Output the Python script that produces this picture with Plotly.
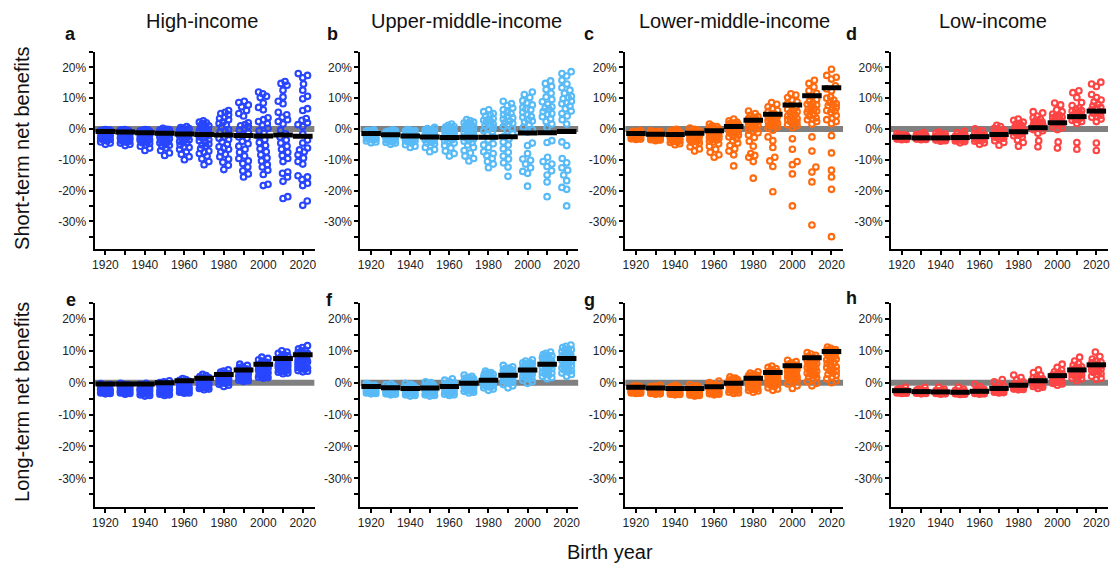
import math
import plotly.graph_objects as go

# ---------------- data ----------------
years = [1920, 1930, 1940, 1950, 1960, 1970, 1980, 1990, 2000, 2010, 2020]
x_tick_years = [1920, 1940, 1960, 1980, 2000, 2020]
y_tick_vals = [-30, -20, -10, 0, 10, 20]
y_tick_text = ["-30%", "-20%", "-10%", "0%", "10%", "20%"]

panel_titles = ["High-income", "Upper-middle-income", "Lower-middle-income", "Low-income"]
panel_letters = ["a", "b", "c", "d", "e", "f", "g", "h"]
row_titles = ["Short-term net benefits", "Long-term net benefits"]
x_title = "Birth year"

group_colors = ["#2845ff", "#58baf6", "#ff6a0e", "#ff4444"]

# Short-term net benefits (%), one list per birth-year group
high_short = [
    [-0.2,-0.3,-0.4,-0.5,-0.6,-0.7,-0.8,-0.9,-1.0,-1.1,-1.2,-1.4,-1.6,-1.8,-2.0,-2.2,-2.5,-2.7,-3.0,-3.2,-3.4,-3.6,-3.9,-4.2,-4.6,-5.0,-0.3,-0.6,-1.3,-2.9],
    [-0.2,-0.4,-0.5,-0.7,-0.9,-1.0,-1.2,-1.4,-1.6,-1.9,-2.1,-2.4,-2.6,-2.9,-3.1,-3.4,-3.7,-4.0,-4.3,-4.6,-5.0,-5.4,-0.3,-0.8,-1.5,-2.2,-3.0,-3.6,-4.1,-1.1],
    [-0.2,-0.4,-0.6,-0.8,-1.0,-1.3,-1.5,-1.8,-2.0,-2.3,-2.6,-2.9,-3.2,-3.5,-3.9,-4.3,-4.7,-5.1,-5.6,-6.2,-7.0,-0.3,-0.7,-1.1,-1.6,-2.4,-3.0,-3.7,-4.5,-1.9],
    [0.2,-0.1,-0.3,-0.5,-0.8,-1.0,-1.3,-1.6,-1.9,-2.2,-2.5,-2.8,-3.2,-3.6,-4.0,-4.5,-5.0,-5.6,-6.2,-7.0,-7.8,-8.6,-0.2,-0.6,-1.1,-1.8,-2.6,-3.4,-4.2,-5.3],
    [0.8,0.4,0.1,-0.2,-0.5,-0.8,-1.1,-1.4,-1.8,-2.2,-2.6,-3.0,-3.5,-4.0,-4.6,-5.2,-5.9,-6.6,-7.4,-8.2,-9.0,-10.0,0.2,-0.4,-1.0,-1.6,-2.4,-3.2,-4.4,-6.0],
    [2.6,2.2,1.6,1.0,0.4,-0.1,-0.6,-1.1,-1.7,-2.3,-2.9,-3.5,-4.2,-4.9,-5.6,-6.4,-7.2,-8.0,-8.8,-9.7,-10.6,-11.6,2.0,0.8,-0.3,-1.4,-2.6,-3.8,-5.2,-7.6],
    [6.0,5.4,4.6,3.8,3.0,2.2,1.4,0.6,-0.2,-1.0,-1.8,-2.6,-3.4,-4.2,-5.0,-5.8,-6.6,-7.4,-8.2,-9.0,-9.8,-10.8,-11.8,-13.2,5.0,3.4,1.8,-0.6,-3.0,-6.2],
    [9.0,8.6,7.8,7.2,6.0,5.0,4.2,2.0,1.4,0.8,0.2,-0.4,-1.2,-2.0,-3.0,-4.0,-4.8,-5.6,-6.6,-7.6,-8.8,-9.6,-10.4,-11.2,-12.4,-13.6,-14.6,-15.6,1.0,-2.6],
    [12.0,11.4,10.6,10.2,8.4,7.0,6.2,3.6,3.0,2.4,1.8,1.2,0.2,-0.6,-1.4,-2.4,-3.4,-4.4,-5.4,-6.4,-7.4,-8.4,-9.4,-10.4,-11.6,-12.4,-13.4,-14.8,-18.0,-18.4],
    [15.4,14.8,14.2,12.6,10.4,9.0,8.2,5.4,4.6,3.8,3.0,2.4,1.6,-0.4,-1.6,-2.6,-3.6,-4.6,-5.6,-6.6,-7.6,-8.6,-9.6,-10.6,-14.0,-14.4,-15.6,-17.0,-22.0,-22.6],
    [18.0,17.4,16.6,14.6,12.6,10.6,9.8,6.6,6.0,3.4,2.8,2.0,1.4,0.8,-1.6,-3.6,-4.6,-6.2,-6.8,-7.4,-8.4,-9.4,-10.6,-11.4,-15.2,-15.6,-16.4,-17.6,-18.4,-23.4,-24.8],
]
upper_short = [
    [-0.3,-0.5,-0.7,-0.9,-1.1,-1.3,-1.5,-1.7,-1.9,-2.1,-2.3,-2.5,-2.7,-2.9,-3.1,-3.3,-3.6,-3.9,-4.2,-4.5,-0.6,-1.0,-1.4,-1.8,-2.2,-2.6,-3.0,-3.4,-1.2,-2.0],
    [-0.3,-0.5,-0.8,-1.0,-1.3,-1.5,-1.8,-2.0,-2.3,-2.5,-2.8,-3.0,-3.3,-3.6,-3.9,-4.2,-4.6,-5.0,-0.6,-1.1,-1.6,-2.1,-2.6,-3.1,-3.7,-4.4,-1.4,-2.2,-2.9,-0.9],
    [-0.2,-0.4,-0.7,-1.0,-1.3,-1.6,-1.9,-2.2,-2.5,-2.8,-3.1,-3.4,-3.8,-4.2,-4.6,-5.1,-5.6,-6.0,-0.5,-1.1,-1.7,-2.3,-2.9,-3.5,-4.0,-0.8,-1.4,-2.0,-2.6,-3.2],
    [0.5,0.1,-0.2,-0.5,-0.9,-1.3,-1.7,-2.1,-2.5,-2.9,-3.3,-3.8,-4.3,-4.8,-5.4,-6.0,-6.7,-7.4,-0.4,-1.0,-1.5,-2.3,-3.0,-3.6,-4.5,-0.7,-1.9,-2.7,-1.2,-3.4],
    [1.6,1.2,0.8,0.4,0.0,-0.4,-0.8,-1.2,-1.6,-2.0,-2.5,-3.0,-3.5,-4.0,-4.6,-5.4,-6.2,-7.2,-8.0,-8.8,0.6,-0.2,-1.0,-1.8,-2.8,-3.8,-1.4,-2.2,-0.6,-3.2],
    [3.0,2.6,2.2,1.8,1.4,1.0,0.4,-0.2,-0.8,-1.4,-2.0,-2.6,-3.2,-3.8,-4.4,-5.2,-6.0,-7.0,-7.8,-8.8,-9.6,-10.4,2.0,0.8,-0.4,-1.6,-2.8,-4.0,1.2,-1.0],
    [6.2,5.6,5.0,4.2,3.4,2.8,2.2,1.6,1.0,0.4,-0.2,-0.8,-1.6,-2.6,-3.6,-4.8,-6.0,-7.4,-8.0,-8.6,-9.6,-10.6,-11.4,-12.6,4.6,3.0,1.4,-0.6,2.4,-5.2],
    [9.0,8.2,7.6,6.8,6.2,5.4,4.6,4.0,3.2,2.6,2.0,1.4,0.8,0.2,-0.6,-1.6,-3.2,-4.2,-5.2,-6.4,-7.6,-8.8,-9.8,-11.0,-12.4,-15.4,3.6,1.8,5.0,-2.4],
    [12.0,11.2,10.2,9.2,8.4,7.8,7.0,6.2,5.4,4.6,3.8,3.0,2.2,1.4,0.6,-0.2,-1.0,-4.6,-5.4,-8.0,-9.8,-10.2,-11.4,-12.6,-13.8,-14.4,-18.6,4.0,6.6,2.6],
    [15.6,14.8,13.8,12.8,11.6,10.4,9.6,8.8,8.0,7.2,6.4,5.6,4.8,4.0,3.2,2.4,1.6,0.4,-3.8,-4.4,-9.2,-10.6,-11.4,-12.2,-13.6,-15.0,-17.2,-22.0,6.8,5.0],
    [18.6,18.0,17.2,15.8,14.6,13.4,12.6,11.6,10.6,9.8,9.0,8.2,7.4,6.6,5.8,5.0,4.2,3.0,1.6,-4.2,-5.4,-9.6,-11.0,-12.6,-13.4,-15.0,-16.8,-19.0,-19.6,-25.0,8.6,10.2],
]
lower_short = [
    [-0.5,-0.8,-1.0,-1.2,-1.4,-1.6,-1.8,-2.0,-2.2,-2.4,-2.6,-2.8,-3.0,-3.2,-3.4,-0.9,-1.3,-1.7,-2.1,-2.5,-2.9,-3.3,-1.1,-1.5,-1.9,-2.3,-2.7,-3.1,-1.2,-2.8],
    [-0.6,-0.9,-1.2,-1.5,-1.8,-2.1,-2.4,-2.7,-3.0,-3.3,-3.6,-3.8,-1.0,-1.4,-1.7,-2.0,-2.3,-2.6,-2.9,-3.2,-3.5,-1.3,-1.9,-2.5,-3.1,-3.4,-1.6,-2.2,-2.8,-0.8],
    [-0.1,-0.4,-0.7,-1.0,-1.3,-1.6,-1.9,-2.2,-2.5,-2.8,-3.1,-3.4,-3.7,-4.0,-4.4,-4.8,-5.1,-0.6,-1.2,-1.8,-2.4,-3.0,-3.6,-4.2,-1.5,-2.7,-3.3,-0.9,-2.0,-3.9],
    [0.3,-0.1,-0.5,-0.9,-1.3,-1.7,-2.1,-2.5,-2.9,-3.3,-3.7,-4.1,-4.6,-5.2,-5.8,-6.5,-7.2,-0.3,-1.1,-1.9,-2.7,-3.5,-4.3,-0.7,-1.5,-2.3,-3.1,-3.9,-1.0,-2.0],
    [1.6,1.0,0.5,0.0,-0.5,-1.0,-1.5,-2.0,-2.5,-3.0,-3.6,-4.2,-4.8,-5.6,-6.6,-7.6,-8.4,-9.2,0.8,-0.2,-1.2,-2.2,-3.2,-4.0,0.3,-0.8,-1.8,-2.8,-1.4,-3.4],
    [3.2,2.6,2.2,1.8,1.4,1.0,0.6,0.2,-0.2,-0.6,-1.0,-1.5,-2.0,-2.6,-3.2,-3.8,-4.6,-5.4,-6.4,-7.2,-8.4,-12.0,2.0,1.2,0.4,-0.4,-1.2,-2.4,1.6,-0.8],
    [5.8,5.0,4.4,3.8,3.4,3.0,2.6,2.2,1.8,1.4,1.0,0.6,0.0,-0.6,-1.2,-2.0,-2.8,-4.0,-5.6,-8.0,-8.6,-9.2,-10.6,-16.0,3.2,2.0,1.2,-0.4,4.0,2.4],
    [8.6,8.0,7.2,6.6,6.0,5.6,5.0,4.6,4.2,3.8,3.4,3.0,2.6,2.2,1.8,1.4,1.0,0.6,0.2,-0.4,-2.6,-3.8,-6.0,-9.2,-10.4,-12.2,-20.4,2.0,3.6,1.2],
    [11.4,11.0,10.2,9.4,8.8,8.2,7.6,7.0,6.4,5.8,5.2,4.6,4.0,3.4,2.8,2.2,1.6,1.0,0.4,-3.2,-6.6,-10.6,-11.6,-14.6,-25.0,3.0,4.2,5.6,1.4,2.4],
    [15.8,14.8,13.6,12.4,11.6,10.6,9.6,9.0,8.4,7.8,7.2,6.6,6.0,5.4,4.8,4.2,3.6,3.0,2.4,1.6,-2.6,-7.2,-12.4,-14.0,-17.2,-31.2,5.8,8.0,3.2,6.4],
    [19.4,17.4,16.8,16.2,14.0,13.0,12.4,10.4,10.0,9.4,8.6,8.0,7.6,7.0,6.4,5.8,5.4,4.4,3.4,3.0,2.4,1.8,-2.2,-7.8,-13.4,-15.6,-19.6,-35.0,6.0,8.2],
]
low_short = [
    [-1.5,-1.8,-2.0,-2.2,-2.4,-2.6,-2.8,-3.0,-3.2,-3.4,-2.1,-2.5,-2.9,-3.3,-2.7,-3.1,-2.3,-3.5,-1.9,-2.6,-3.0,-2.8],
    [-1.2,-1.6,-2.0,-2.3,-2.6,-2.9,-3.2,-3.5,-1.8,-2.2,-2.5,-2.8,-3.1,-3.4,-2.4,-2.7,-3.0,-3.3,-2.1,-2.9,-3.2,-2.6],
    [-1.0,-1.4,-1.8,-2.2,-2.6,-3.0,-3.4,-3.8,-4.0,-2.0,-2.4,-2.8,-3.2,-3.6,-1.6,-2.5,-2.9,-3.3,-2.7,-3.1,-3.5,-2.3],
    [-0.8,-1.2,-1.7,-2.1,-2.5,-2.9,-3.3,-3.7,-4.1,-4.5,-1.9,-2.3,-2.7,-3.1,-3.5,-3.9,-2.6,-3.0,-3.4,-2.8,-3.2,-3.6],
    [0.0,-0.6,-1.2,-1.8,-2.3,-2.7,-3.1,-3.5,-4.0,-4.5,-5.0,-1.5,-2.0,-2.5,-2.9,-3.3,-3.8,-2.2,-2.6,-3.0,-3.6,-2.8],
    [1.2,0.8,0.2,-0.4,-1.0,-1.5,-2.0,-2.4,-2.8,-3.2,-3.8,-4.4,-5.3,-0.6,-1.2,-1.8,-2.2,-2.6,-3.0,-1.4,-2.0,-2.5],
    [3.2,2.8,2.2,1.6,1.0,0.4,-0.2,-0.8,-1.4,-2.0,-2.6,-3.6,-4.4,-5.6,0.6,-0.4,-1.0,-1.6,1.8,-0.6,-1.2,-2.2],
    [5.6,5.2,4.2,3.2,2.6,2.0,1.4,0.8,0.2,-0.6,-1.4,-3.8,-5.8,1.0,1.8,2.4,0.4,-0.2,3.6,1.6,0.6,2.2],
    [8.4,7.8,6.2,5.6,4.8,4.2,3.6,3.0,2.4,1.8,1.2,0.6,-0.2,-4.2,-6.2,3.8,2.8,4.4,1.6,2.2,3.2,0.4],
    [12.4,11.8,10.2,8.6,7.6,6.8,6.0,5.4,4.8,4.2,3.6,3.0,2.4,1.8,-4.4,-6.6,5.0,3.2,6.4,2.8,4.4,5.8],
    [15.2,14.6,13.8,11.2,10.2,9.4,8.8,8.0,7.4,6.8,6.2,5.6,5.0,4.4,3.8,3.2,2.4,-4.6,-7.0,7.0,5.2,4.0],
]

# Long-term net benefits (%)
high_long = [
    [-0.3,-0.6,-0.8,-1.0,-1.1,-1.2,-1.4,-1.5,-1.6,-1.8,-1.9,-2.0,-2.1,-2.2,-2.3,-2.4,-2.5,-2.6,-2.7,-2.8,-2.9,-3.0,-3.1,-3.2,-3.4,-3.5,-1.7,-2.2,-2.6,-3.0],
    [-0.2,-0.5,-0.7,-0.9,-1.0,-1.2,-1.3,-1.5,-1.6,-1.8,-1.9,-2.0,-2.1,-2.2,-2.4,-2.5,-2.6,-2.7,-2.8,-2.9,-3.0,-3.1,-3.2,-3.4,-3.6,-1.4,-1.8,-2.3,-2.7,-3.0],
    [-0.2,-0.5,-0.8,-1.0,-1.2,-1.4,-1.6,-1.8,-1.9,-2.0,-2.2,-2.3,-2.4,-2.6,-2.7,-2.8,-3.0,-3.1,-3.2,-3.3,-3.5,-3.6,-3.8,-4.0,-4.2,-1.5,-2.1,-2.5,-2.9,-3.4],
    [0.6,0.3,0.0,-0.3,-0.6,-0.8,-1.0,-1.2,-1.4,-1.6,-1.8,-2.0,-2.2,-2.4,-2.6,-2.7,-2.8,-3.0,-3.1,-3.2,-3.4,-3.5,-3.6,-3.8,-4.0,-1.1,-1.7,-2.3,-2.9,-3.3],
    [1.3,1.0,0.7,0.4,0.2,0.0,-0.2,-0.4,-0.6,-0.8,-1.0,-1.2,-1.4,-1.6,-1.8,-2.0,-2.2,-2.4,-2.5,-2.6,-2.8,-2.9,-3.0,-3.2,-3.3,-0.5,-1.1,-1.7,-2.3,-2.7],
    [2.6,2.2,1.9,1.6,1.4,1.2,1.0,0.8,0.6,0.4,0.2,0.0,-0.2,-0.4,-0.6,-0.8,-1.0,-1.2,-1.4,-1.6,-1.8,-2.0,-2.2,0.5,0.1,-0.3,-0.9,-1.3,-1.7,1.1],
    [4.0,3.6,3.3,3.0,2.8,2.6,2.4,2.2,2.0,1.8,1.6,1.4,1.2,1.0,0.8,0.6,0.4,0.2,0.0,-0.2,-0.5,-0.8,-1.2,1.5,0.9,0.5,-0.1,2.3,1.1,0.3],
    [5.8,5.4,5.0,4.7,4.4,4.2,4.0,3.8,3.5,3.2,3.0,2.8,2.6,2.4,2.2,2.0,1.8,1.6,1.4,1.2,1.0,0.8,0.6,0.4,2.9,2.1,1.5,0.9,3.4,1.7],
    [8.0,7.6,7.2,6.8,6.4,6.1,5.8,5.5,5.2,4.9,4.6,4.3,4.0,3.7,3.4,3.1,2.8,2.5,2.2,2.0,1.8,1.6,1.4,4.5,3.9,3.3,2.7,2.1,5.0,1.7],
    [10.0,9.6,9.2,8.8,8.4,8.0,7.6,7.2,6.9,6.6,6.3,6.0,5.7,5.4,5.1,4.8,4.5,4.2,3.9,3.6,3.3,3.0,2.8,6.1,5.2,4.4,3.5,5.6,4.0,7.0],
    [11.6,11.0,10.6,10.2,9.8,9.4,9.0,8.6,8.2,7.8,7.4,7.0,6.6,6.2,5.8,5.4,5.0,4.6,4.2,3.8,3.4,6.0,7.2,8.0,4.8,5.6,6.8,9.2,4.4,3.6],
]
upper_long = [
    [-0.3,-0.6,-0.8,-1.0,-1.2,-1.4,-1.5,-1.7,-1.8,-2.0,-2.1,-2.2,-2.3,-2.4,-2.5,-2.6,-2.7,-2.8,-2.9,-3.0,-3.1,-3.2,-3.4,-3.5,-1.1,-1.6,-1.9,-2.3,-2.7,-3.0],
    [-0.4,-0.7,-1.0,-1.2,-1.4,-1.6,-1.8,-2.0,-2.1,-2.2,-2.4,-2.5,-2.6,-2.8,-2.9,-3.0,-3.1,-3.2,-3.4,-3.5,-3.6,-3.8,-1.5,-1.9,-2.3,-2.7,-3.1,-3.3,-2.0,-2.6],
    [-0.2,-0.5,-0.9,-1.2,-1.4,-1.6,-1.8,-2.0,-2.2,-2.4,-2.6,-2.8,-3.0,-3.1,-3.2,-3.4,-3.6,-3.8,-4.0,-4.2,-1.5,-1.9,-2.3,-2.7,-2.9,-3.3,-3.5,-2.1,-2.5,-1.1],
    [0.3,0.0,-0.4,-0.8,-1.1,-1.4,-1.7,-2.0,-2.2,-2.4,-2.6,-2.8,-3.0,-3.2,-3.4,-3.6,-3.8,-4.0,-4.2,-1.3,-1.6,-1.9,-2.3,-2.5,-2.9,-3.3,-3.5,-0.6,-2.1,-2.7],
    [1.2,0.8,0.4,0.0,-0.4,-0.8,-1.1,-1.4,-1.7,-2.0,-2.2,-2.4,-2.6,-2.8,-3.0,-3.2,-3.4,-3.6,-3.8,-4.0,-1.2,-1.6,-2.1,-2.5,-2.9,-3.3,-0.2,-0.6,-1.9,-2.7],
    [2.4,2.0,1.6,1.2,0.8,0.4,0.0,-0.4,-0.8,-1.2,-1.5,-1.8,-2.1,-2.4,-2.7,-3.0,-3.2,0.6,0.2,-0.2,-0.6,-1.0,-1.4,-1.7,-2.0,-2.3,-2.6,1.4,1.0,-1.1],
    [3.6,3.2,2.8,2.4,2.0,1.6,1.2,0.8,0.4,0.0,-0.4,-0.8,-1.2,-1.6,-2.0,-2.4,2.6,2.2,1.8,1.4,1.0,0.6,0.2,-0.2,-0.6,-1.0,-1.4,3.0,1.1,-0.1],
    [5.4,5.0,4.6,4.2,3.8,3.4,3.0,2.6,2.2,1.8,1.4,1.0,0.6,0.2,-0.2,-0.6,-1.0,-1.6,4.4,4.0,3.6,3.2,2.8,2.4,2.0,1.6,1.2,0.8,0.4,2.5],
    [7.2,6.8,6.4,6.0,5.6,5.2,4.8,4.4,4.0,3.6,3.2,2.8,2.4,2.0,1.6,1.2,0.8,0.4,-0.2,6.2,5.8,5.4,5.0,4.6,4.2,3.8,3.4,3.0,2.6,1.4],
    [9.6,9.2,8.8,8.4,8.0,7.6,7.2,6.8,6.4,6.0,5.6,5.2,4.8,4.4,4.0,3.6,3.2,2.8,2.4,2.0,1.6,1.2,8.6,7.8,7.0,6.2,5.4,4.6,3.0,6.6],
    [11.8,11.4,11.0,10.6,10.2,9.8,9.4,9.0,8.6,8.2,7.8,7.4,7.0,6.6,6.2,5.8,5.4,5.0,4.6,4.2,3.8,3.4,3.0,2.6,2.0,10.4,8.8,7.2,5.6,4.0],
]
lower_long = [
    [-1.0,-1.2,-1.4,-1.6,-1.8,-2.0,-2.2,-2.4,-2.6,-2.8,-3.0,-3.2,-3.4,-1.1,-1.5,-1.9,-2.3,-2.7,-3.1,-1.3,-1.7,-2.1,-2.5,-2.9,-3.3,-2.8,-3.0,-2.6,-3.2,-2.9],
    [-0.8,-1.1,-1.4,-1.7,-2.0,-2.3,-2.6,-2.9,-3.2,-3.5,-1.2,-1.6,-2.1,-2.5,-2.8,-3.1,-3.4,-1.9,-2.4,-2.7,-3.0,-3.3,-3.6,-2.2,-2.9,-3.1,-3.3,-2.6,-3.0,-3.2],
    [-0.8,-1.1,-1.4,-1.8,-2.1,-2.4,-2.7,-3.0,-3.2,-3.4,-3.6,-3.8,-1.5,-1.9,-2.3,-2.6,-2.9,-3.1,-3.3,-3.5,-3.7,-2.0,-2.5,-2.8,-3.0,-3.2,-3.4,-3.6,-2.2,-2.7],
    [-0.6,-1.0,-1.4,-1.8,-2.2,-2.5,-2.8,-3.1,-3.4,-3.7,-4.0,-4.2,-1.2,-1.6,-2.0,-2.4,-2.7,-3.0,-3.3,-3.6,-3.9,-2.6,-2.9,-3.2,-3.5,-3.8,-3.0,-3.3,-3.6,-2.1],
    [0.5,0.0,-0.5,-1.0,-1.4,-1.8,-2.2,-2.5,-2.8,-3.1,-3.4,-3.6,-3.8,-1.2,-1.6,-2.0,-2.4,-2.7,-3.0,-3.3,-3.5,-2.6,-2.9,-3.2,-3.4,-2.3,-2.8,-3.0,-0.8,-1.9],
    [1.8,1.4,1.0,0.6,0.2,-0.2,-0.6,-1.0,-1.4,-1.8,-2.2,-2.6,-3.0,-3.4,1.2,0.8,0.4,0.0,-0.4,-0.8,-1.2,-1.6,-2.0,-2.4,-2.8,-3.2,-0.1,-1.1,-1.9,-2.5],
    [3.4,3.0,2.6,2.2,1.8,1.4,1.0,0.6,0.2,-0.2,-0.6,-1.0,-1.4,-1.8,-2.2,-2.6,-3.0,2.4,2.0,1.6,1.2,0.8,0.4,0.0,-0.4,-0.8,-1.2,-1.6,-2.0,-2.4],
    [5.2,4.8,4.4,4.0,3.6,3.2,2.8,2.4,2.0,1.6,1.2,0.8,0.4,0.0,-0.4,-0.8,-1.2,-1.6,-2.0,-2.4,3.4,3.0,2.6,2.2,1.8,1.4,1.0,0.6,0.2,-0.6],
    [7.0,6.6,6.2,5.8,5.4,5.0,4.6,4.2,3.8,3.4,3.0,2.6,2.2,1.8,1.4,1.0,0.6,0.2,-0.4,-1.0,-1.8,5.6,4.8,4.0,3.2,2.4,1.6,0.8,3.6,2.0],
    [9.4,9.0,8.6,8.2,7.6,7.0,6.4,5.8,5.2,4.6,4.0,3.4,2.8,2.2,1.6,1.0,0.4,-0.2,-1.0,8.0,7.2,6.6,6.0,5.4,4.8,4.2,3.6,3.0,2.4,1.8],
    [11.2,10.8,10.4,10.0,9.6,9.0,8.4,7.8,7.2,6.6,6.0,5.4,4.8,4.2,3.6,3.0,2.4,1.8,1.2,0.6,0.0,10.2,9.2,8.2,7.4,6.2,5.0,3.8,2.6,9.8],
]
low_long = [
    [-1.4,-1.9,-2.2,-2.4,-2.6,-2.8,-3.0,-3.2,-3.4,-2.5,-2.7,-2.9,-3.1,-3.3,-2.3,-2.6,-2.8,-3.0,-3.2,-2.7,-2.9,-3.1],
    [-1.5,-2.0,-2.3,-2.5,-2.7,-2.9,-3.1,-3.3,-3.5,-2.6,-2.8,-3.0,-3.2,-3.4,-2.4,-2.7,-2.9,-3.1,-3.3,-2.8,-3.0,-3.2],
    [-1.4,-2.0,-2.4,-2.6,-2.8,-3.0,-3.2,-3.4,-3.6,-2.7,-2.9,-3.1,-3.3,-3.5,-2.5,-2.8,-3.0,-3.2,-3.4,-2.9,-3.1,-3.3],
    [-1.4,-2.0,-2.4,-2.7,-2.9,-3.1,-3.3,-3.5,-3.7,-2.8,-3.0,-3.2,-3.4,-3.6,-2.6,-2.9,-3.1,-3.3,-3.5,-3.0,-3.2,-3.4],
    [-0.5,-1.2,-1.8,-2.2,-2.5,-2.8,-3.1,-3.4,-3.6,-2.4,-2.7,-3.0,-3.3,-3.5,-2.0,-2.6,-2.9,-3.2,-3.4,-2.8,-3.1,-3.3],
    [1.0,0.3,-0.5,-1.1,-1.6,-2.0,-2.4,-2.7,-3.0,-3.2,-1.8,-2.2,-2.6,-2.9,-3.1,-1.4,-2.1,-2.5,-2.8,-3.0,-2.3,-2.7],
    [2.4,1.6,0.9,0.3,-0.3,-0.8,-1.2,-1.6,-2.0,-2.2,-0.5,-1.0,-1.4,-1.8,-2.1,0.0,-0.9,-1.3,-1.7,-1.9,-1.1,-1.5],
    [4.0,3.2,2.4,1.8,1.2,0.6,0.0,-0.5,-1.0,-1.4,-1.8,1.0,0.4,-0.2,-0.8,-1.2,1.5,0.8,-0.4,-1.0,0.2,-0.6],
    [5.8,4.8,4.0,3.4,2.8,2.2,1.6,1.0,0.4,-0.2,-0.8,3.0,2.4,1.8,1.2,0.6,0.0,2.6,1.4,0.2,2.0,-0.4],
    [8.0,6.8,6.0,5.4,4.8,4.2,3.6,3.0,2.4,1.8,1.2,0.6,5.0,4.4,3.8,3.2,2.6,2.0,1.4,4.0,2.8,3.4],
    [9.6,8.2,7.4,6.8,6.2,5.6,5.0,4.4,3.8,3.2,2.6,2.0,1.4,1.0,6.4,5.8,5.2,4.6,4.0,3.4,2.8,4.8],
]

# Group central values (black bars), %
high_short_mid = [-0.8, -1.0, -1.2, -1.4, -1.6, -1.8, -2.0, -2.1, -2.3, -2.0, -2.4]
upper_short_mid = [-1.5, -1.9, -2.3, -2.6, -2.8, -2.7, -2.7, -2.5, -1.3, -1.2, -0.8]
lower_short_mid = [-1.5, -1.7, -1.8, -1.4, -0.6, 0.8, 2.8, 4.8, 7.8, 10.8, 13.4]
low_short_mid = [-2.7, -2.9, -2.9, -2.8, -2.5, -1.8, -0.9, 0.4, 2.0, 4.0, 5.8]
high_long_mid = [-0.4, -0.4, -0.4, 0.0, 0.6, 1.4, 2.6, 4.0, 5.8, 7.6, 8.8]
upper_long_mid = [-1.2, -1.6, -1.8, -1.7, -1.2, -0.2, 0.8, 2.3, 4.0, 5.8, 7.6]
lower_long_mid = [-1.4, -1.7, -1.8, -1.8, -1.3, -0.2, 1.4, 3.2, 5.3, 7.8, 9.8]
low_long_mid = [-2.5, -2.8, -2.9, -3.0, -2.7, -1.8, -0.8, 0.6, 2.2, 4.0, 5.6]

panels = [
    (high_short, high_short_mid), (upper_short, upper_short_mid),
    (lower_short, lower_short_mid), (low_short, low_short_mid),
    (high_long, high_long_mid), (upper_long, upper_long_mid),
    (lower_long, lower_long_mid), (low_long, low_long_mid),
]

# ---------------- layout geometry ----------------
W, H = 1114, 564
X_RANGE = [1914.5, 2026]
Y_RANGE = [-39, 25]
col_px = [(92, 313), (359, 578), (625, 844), (892, 1110)]
row_px = [(52, 249), (303, 507)]


def swarm(ys, d, wmax):
    """Beeswarm offsets (pixels) for y pixel values; capped width."""
    n = len(ys)
    order = sorted(range(n), key=lambda i: ys[i])
    steps = int(wmax * 4)
    grid = [k * 0.25 for k in range(-steps, steps + 1)]
    placed = []
    offs = [0.0] * n
    for k, i in enumerate(order):
        y = ys[i]
        sgn = 1 if (k % 2 == 0) else -1
        cand = sorted(grid, key=lambda c: (abs(c), sgn * c))
        best, bestd = 0.0, -1.0
        for c in cand:
            md = min((math.hypot(c - xj, y - yj) for xj, yj in placed), default=1e9)
            if md >= d:
                best = c
                break
            if md > bestd + 1e-9:
                bestd, best = md, c
        offs[i] = best
        placed.append((best, y))
    return offs


fig = go.Figure()
layout_axes = {}
axfont = dict(family="Liberation Sans, Arial, sans-serif", size=12, color="#222222")
for p in range(8):
    r, c = divmod(p, 4)
    x0, x1 = col_px[c]
    y0, y1 = row_px[r]
    xdom = [x0 / W, x1 / W]
    ydom = [1 - y1 / H, 1 - y0 / H]
    px_per_year = (x1 - x0) / (X_RANGE[1] - X_RANGE[0])
    px_per_pct = (y1 - y0) / (Y_RANGE[1] - Y_RANGE[0])
    sfx = "" if p == 0 else str(p + 1)
    xa, ya = "x" + sfx, "y" + sfx
    groups, mids = panels[p]
    color = group_colors[c]

    xs, ys_all = [], []
    for yr, vals in zip(years, groups):
        ypx = [v * px_per_pct for v in vals]
        offs = swarm(ypx, 6.2, 4.8)
        xs += [yr + o / px_per_year for o in offs]
        ys_all += vals
    fig.add_trace(go.Scatter(x=X_RANGE, y=[0, 0], mode="lines",
                             line=dict(color="#808080", width=6),
                             xaxis=xa, yaxis=ya, hoverinfo="skip", showlegend=False))
    fig.add_trace(go.Scatter(x=xs, y=ys_all, mode="markers",
                             marker=dict(symbol="circle-open", size=5.6, color=color,
                                         line=dict(width=2.1, color=color)),
                             xaxis=xa, yaxis=ya, showlegend=False))
    bx, by = [], []
    for yr, m in zip(years, mids):
        bx += [yr - 5, yr + 5, None]
        by += [m, m, None]
    fig.add_trace(go.Scatter(x=bx, y=by, mode="lines",
                             line=dict(color="black", width=5),
                             xaxis=xa, yaxis=ya, showlegend=False))

    layout_axes["xaxis" + sfx] = dict(
        domain=xdom, anchor=ya, range=X_RANGE, showgrid=False, zeroline=False,
        showline=True, linecolor="black", linewidth=2,
        tickmode="array", tickvals=x_tick_years, ticktext=[str(v) for v in x_tick_years],
        ticks="outside", ticklen=4, tickwidth=1.5, tickcolor="black", tickfont=axfont,
        minor=dict(tickmode="linear", tick0=1920, dtick=10, ticks="outside",
                   ticklen=4, tickwidth=1.5, tickcolor="black"),
        fixedrange=True)
    layout_axes["yaxis" + sfx] = dict(
        domain=ydom, anchor=xa, range=Y_RANGE, showgrid=False, zeroline=False,
        showline=True, linecolor="black", linewidth=2,
        tickmode="array", tickvals=y_tick_vals, ticktext=y_tick_text,
        ticks="outside", ticklen=4, tickwidth=1.5, tickcolor="black", tickfont=axfont,
        minor=dict(tickmode="linear", tick0=0, dtick=5, ticks="outside",
                   ticklen=4, tickwidth=1.5, tickcolor="black"),
        fixedrange=True)

annotations = []
title_cx = [200, 466, 735, 994]
for c in range(4):
    annotations.append(dict(text=panel_titles[c], x=title_cx[c] / W, y=1 - 21 / H,
                            xref="paper", yref="paper", showarrow=False,
                            xanchor="center", yanchor="middle",
                            font=dict(family="Liberation Sans, Arial", size=20, color="#111111")))
letter_pos = [(68, 34), (331, 34), (589, 34), (852, 34),
              (68, 300), (328, 300), (589, 300), (852, 298)]
for p in range(8):
    lx, ly = letter_pos[p]
    annotations.append(dict(text="<b>%s</b>" % panel_letters[p], x=lx / W, y=1 - ly / H,
                            xref="paper", yref="paper", showarrow=False,
                            xanchor="center", yanchor="middle",
                            font=dict(family="Liberation Sans, Arial", size=18, color="#111111")))
for r, cy in enumerate([148, 402]):
    annotations.append(dict(text=row_titles[r], x=19 / W, y=1 - cy / H,
                            xref="paper", yref="paper", showarrow=False, textangle=-90,
                            xanchor="center", yanchor="middle",
                            font=dict(family="Liberation Sans, Arial", size=20, color="#111111")))
annotations.append(dict(text=x_title, x=610 / W, y=1 - 552 / H, xref="paper", yref="paper",
                        showarrow=False, xanchor="center", yanchor="middle",
                        font=dict(family="Liberation Sans, Arial", size=20, color="#111111")))

fig.update_layout(width=W, height=H, margin=dict(l=0, r=0, t=0, b=0),
                  paper_bgcolor="white", plot_bgcolor="white",
                  annotations=annotations, showlegend=False, **layout_axes)

fig.write_html("out.html", config={"displayModeBar": False},
               post_script="document.body.style.margin='0';document.body.style.overflow='hidden';")
